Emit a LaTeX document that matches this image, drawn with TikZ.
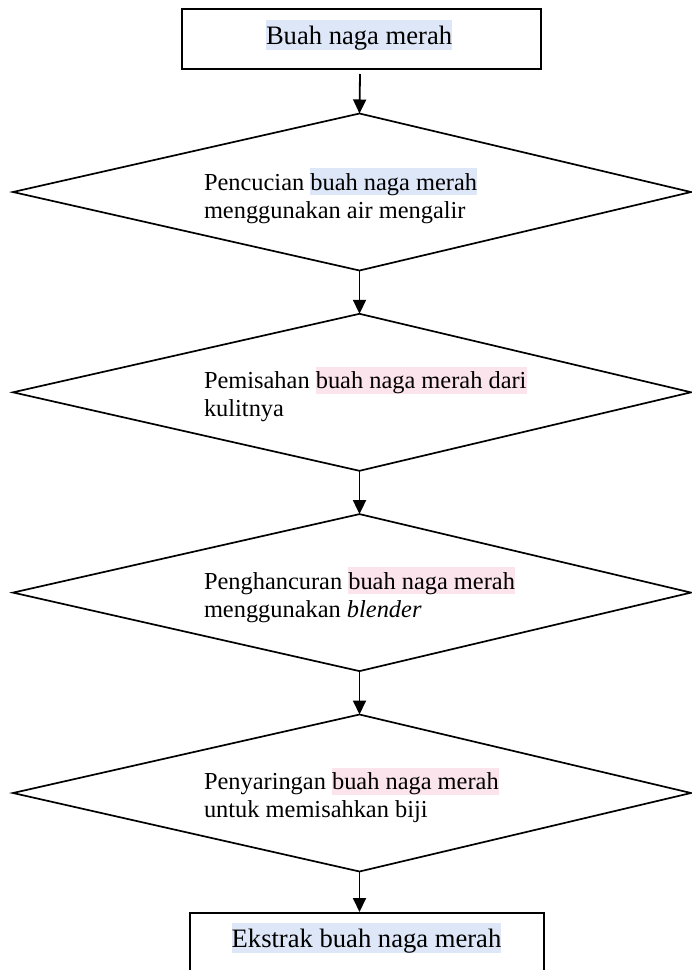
\documentclass[tikz,border=0pt]{standalone}
\usepackage{fontspec}
\setmainfont{Liberation Serif}
\usetikzlibrary{arrows.meta}
\definecolor{hlblue}{RGB}{221,231,247}
\definecolor{hlpink}{RGB}{252,228,236}
\newcommand\hlstrut{\rule[-0.216em]{0pt}{1.107em}}
\newcommand\hlb[1]{{\setlength{\fboxsep}{0pt}\colorbox{hlblue}{\hlstrut#1}}}
\newcommand\hlp[1]{{\setlength{\fboxsep}{0pt}\colorbox{hlpink}{\hlstrut#1}}}
\newcommand\boxfont{\fontsize{26.6}{30.6}\selectfont}
\newcommand\dfont{\fontsize{24.4}{28}\selectfont}
\begin{document}
\begin{tikzpicture}[x=1pt,y=-1pt,
  boxst/.style={draw=black, line width=2pt, rectangle, inner sep=0pt},
  dia/.style={draw=black, line width=1.7pt, line join=miter},
  txt/.style={inner sep=0pt, outer sep=0pt, text=black},
  arr/.style={draw=black, line width=1.8pt, -{Triangle[width=13pt,length=14pt]}}]
\path[use as bounding box] (0,0) rectangle (692,970);
% top box
\node[boxst, minimum width=359pt, minimum height=60pt] (b0) at (361.5,39.4) {};
\node[txt, anchor=base west, font=\boxfont] (t0) at (266,44) {\hlb{Buah naga merah}};
\coordinate (a0) at (360,74);
% diamonds
\foreach \k/\yc in {1/192,2/392.3,3/592.6,4/793}{
  \coordinate (d\k t) at (359.5,\yc-78.5);
  \coordinate (d\k b) at (359.5,\yc+78.5);
  \coordinate (d\k l) at (13,\yc);
  \coordinate (d\k r) at (691,\yc);
  \draw[dia] (d\k t) -- (d\k r) -- (d\k b) -- (d\k l) -- cycle;
}
\node[txt, anchor=north west, align=left, font=\dfont] (t1) at (204,192-2-21.74)
  {Pencucian \hlb{buah naga merah}\\menggunakan air mengalir};
\node[txt, anchor=north west, align=left, font=\dfont] (t2) at (204,392.3-3.5-21.74)
  {Pemisahan \hlp{buah naga merah dari}\\kulitnya};
\node[txt, anchor=north west, align=left, font=\dfont] (t3) at (204,592.6-3.5-21.74)
  {Penghancuran \hlp{buah naga merah}\\menggunakan \textit{blender}};
\node[txt, anchor=north west, align=left, font=\dfont] (t4) at (204,793-3.5-21.74)
  {Penyaringan \hlp{buah naga merah}\\untuk memisahkan biji};
% bottom box (cut off by page edge)
\begin{scope}
\clip (0,0) rectangle (692,970);
\node[boxst, minimum width=354pt, minimum height=72pt] (b5) at (367,949) {};
\end{scope}
\node[txt, anchor=base west, font=\boxfont] (t5) at (231.7,947) {\hlb{Ekstrak buah naga merah}};
% arrows
\draw[arr] (a0) -- (d1t);
\draw[arr] (d1b) -- (d2t);
\draw[arr] (d2b) -- (d3t);
\draw[arr] (d3b) -- (d4t);
\draw[arr] (d4b) -- (d4b |- b5.north);
\end{tikzpicture}
\end{document}
